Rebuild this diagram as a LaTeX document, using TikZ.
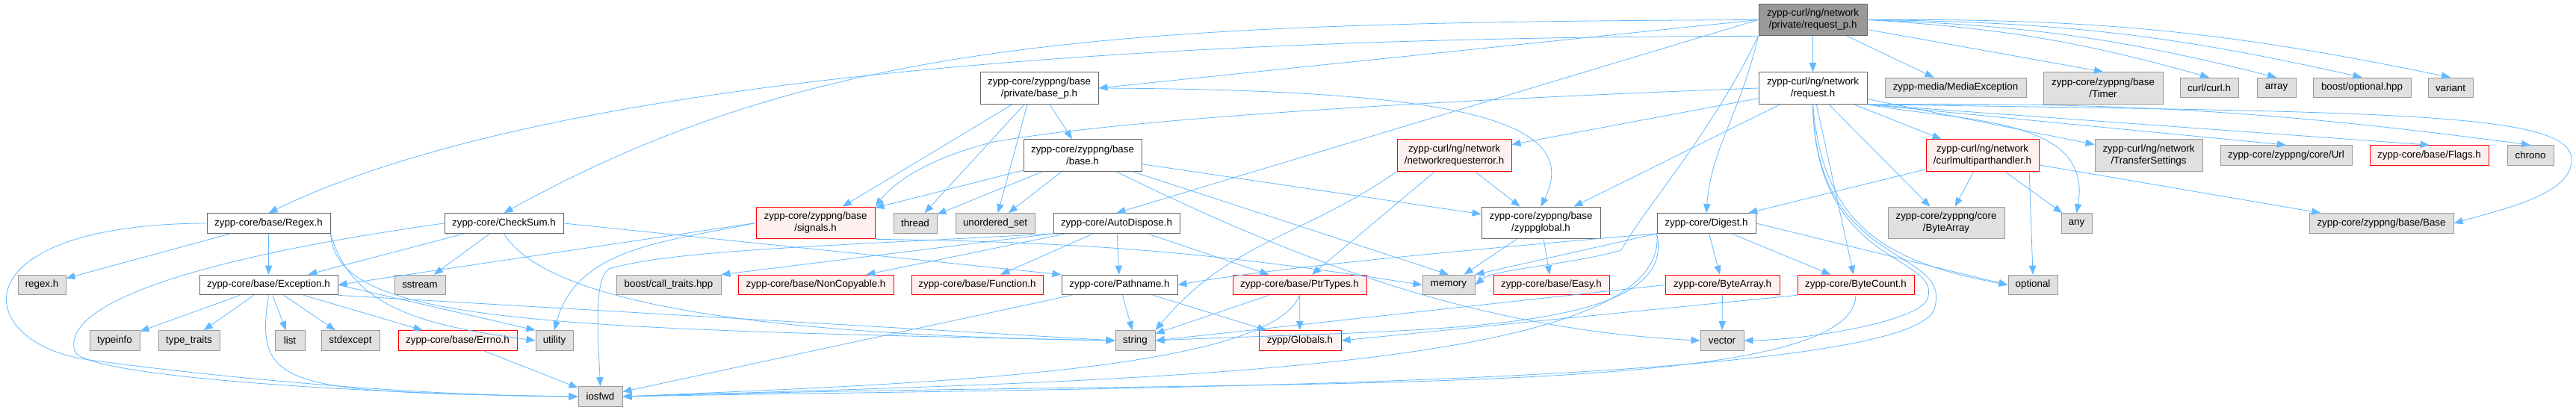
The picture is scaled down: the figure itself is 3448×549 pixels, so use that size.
\documentclass[tikz,border=0pt]{standalone}
\usepackage{fontspec}
\setmainfont{Liberation Sans}
\usetikzlibrary{arrows.meta}
\definecolor{edgeblue}{HTML}{63B8FF}
\definecolor{sysfill}{HTML}{E0E0E0}
\definecolor{sysline}{HTML}{999999}
\definecolor{docline}{HTML}{666666}
\definecolor{truncfill}{HTML}{FFF0F0}

\begin{document}
\begin{tikzpicture}[x=0.75pt,y=-0.75pt,
  hdr/.style={rectangle,inner sep=0pt,minimum height=20pt,align=center,
    font=\fontsize{10}{12}\selectfont,line width=0.75pt},
  twoline/.style={minimum height=32pt},
  syshdr/.style={hdr,fill=sysfill,draw=sysline},
  dochdr/.style={hdr,fill=white,draw=docline},
  redhdr/.style={hdr,fill=truncfill,draw=red},
  roothdr/.style={hdr,fill=sysline,draw=docline},
  dep/.style={draw=edgeblue,line width=0.6pt,-{Triangle[length=9pt,width=7pt]}}]
\useasboundingbox (0,0) rectangle (3448,549);

% the file itself
\node[roothdr,twoline,minimum width=108.75pt] (rp) at (2426.5,26.5) {zypp-curl/ng/network\\/private/request\_p.h};

% second row
\node[dochdr,twoline,minimum width=118.5pt] (basep) at (1391,118) {zypp-core/zyppng/base\\/private/base\_p.h};
\node[dochdr,twoline,minimum width=108.75pt] (req) at (2426.5,118) {zypp-curl/ng/network\\/request.h};
\node[syshdr,minimum width=141.75pt] (mediaex) at (2617.5,117.5) {zypp-media/MediaException};
\node[syshdr,twoline,minimum width=120pt] (timer) at (2815,118) {zypp-core/zyppng/base\\/Timer};
\node[syshdr,minimum width=58.5pt] (curlh) at (2957,117.5) {curl/curl.h};
\node[syshdr,minimum width=39pt] (array) at (3047,117.5) {array};
\node[syshdr,minimum width=98.25pt] (boostopt) at (3161.5,117.5) {boost/optional.hpp};
\node[syshdr,minimum width=45pt] (variant) at (3280,117.5) {variant};

% third row
\node[dochdr,twoline,minimum width=118.5pt] (baseh) at (1449,208) {zypp-core/zyppng/base\\/base.h};
\node[redhdr,twoline,minimum width=114.75pt] (nre) at (1946.5,208) {zypp-curl/ng/network\\/networkrequesterror.h};
\node[redhdr,twoline,minimum width=113.25pt] (cmph) at (2653.5,208) {zypp-curl/ng/network\\/curlmultiparthandler.h};
\node[syshdr,twoline,minimum width=108pt] (transfer) at (2876,208) {zypp-curl/ng/network\\/TransferSettings};
\node[syshdr,minimum width=132pt] (url) at (3060,208) {zypp-core/zyppng/core/Url};
\node[redhdr,minimum width=119.25pt] (flags) at (3251.5,208) {zypp-core/base/Flags.h};
\node[syshdr,minimum width=46.5pt] (chrono) at (3387,208) {chrono};

% fourth row
\node[dochdr,minimum width=123.75pt] (regex) at (359.5,299) {zypp-core/base/Regex.h};
\node[dochdr,minimum width=119.25pt] (checksum) at (674.5,299) {zypp-core/CheckSum.h};
\node[redhdr,twoline,minimum width=119.25pt] (signals) at (1091.5,298.5) {zypp-core/zyppng/base\\/signals.h};
\node[syshdr,minimum width=43.5pt] (thread) at (1225,299) {thread};
\node[syshdr,minimum width=79.5pt] (uset) at (1332,299) {unordered\_set};
\node[dochdr,minimum width=126.75pt] (autodisp) at (1494.5,299) {zypp-core/AutoDispose.h};
\node[dochdr,twoline,minimum width=119.25pt] (zglobal) at (2062.5,298.5) {zypp-core/zyppng/base\\/zyppglobal.h};
\node[dochdr,minimum width=99pt] (digest) at (2284,299) {zypp-core/Digest.h};
\node[syshdr,twoline,minimum width=117pt] (coreba) at (2605,298.5) {zypp-core/zyppng/core\\/ByteArray};
\node[syshdr,minimum width=30.75pt] (any) at (2779.5,299) {any};
\node[syshdr,minimum width=144.75pt] (zbase) at (3187.5,299) {zypp-core/zyppng/base/Base};

% fifth row
\node[syshdr,minimum width=48pt] (regexh) at (56,381.5) {regex.h};
\node[dochdr,minimum width=138.75pt] (exception) at (359.5,381.5) {zypp-core/base/Exception.h};
\node[syshdr,minimum width=51pt] (sstream) at (562,381.5) {sstream};
\node[syshdr,minimum width=105pt] (calltraits) at (895,381.5) {boost/call\_traits.hpp};
\node[redhdr,minimum width=156pt] (noncopy) at (1092,381.5) {zypp-core/base/NonCopyable.h};
\node[redhdr,minimum width=132pt] (function) at (1308,381.5) {zypp-core/base/Function.h};
\node[dochdr,minimum width=116.25pt] (pathname) at (1498.5,381.5) {zypp-core/Pathname.h};
\node[redhdr,minimum width=134.25pt] (ptrtypes) at (1739.5,381.5) {zypp-core/base/PtrTypes.h};
\node[syshdr,minimum width=52.5pt] (memory) at (1939,381.5) {memory};
\node[redhdr,minimum width=116.25pt] (easy) at (2076.5,381.5) {zypp-core/base/Easy.h};
\node[redhdr,minimum width=114.75pt] (bytearray) at (2305.5,381.5) {zypp-core/ByteArray.h};
\node[redhdr,minimum width=117pt] (bytecount) at (2484,381.5) {zypp-core/ByteCount.h};
\node[syshdr,minimum width=49.5pt] (optional) at (2721,381.5) {optional};

% sixth row
\node[syshdr,minimum width=50.25pt] (typeinfo) at (153.5,456) {typeinfo};
\node[syshdr,minimum width=61.5pt] (typetraits) at (253,456) {type\_traits};
\node[syshdr,minimum width=30pt] (list) at (388,456) {list};
\node[syshdr,minimum width=58.5pt] (stdexcept) at (469,456) {stdexcept};
\node[redhdr,minimum width=119.25pt] (errno) at (612.5,456) {zypp-core/base/Errno.h};
\node[syshdr,minimum width=37.5pt] (utility) at (742,456) {utility};
\node[syshdr,minimum width=39.75pt] (string) at (1519.5,456) {string};
\node[redhdr,minimum width=82.5pt] (globals) at (1740,456) {zypp/Globals.h};
\node[syshdr,minimum width=43.5pt] (vector) at (2305,456) {vector};

% last row
\node[syshdr,minimum width=44.25pt] (iosfwd) at (803.5,531) {iosfwd};

% request_p.h
\draw[dep] (rp) -- (req);
\draw[dep] (rp.west) -- (basep.east);
\draw[dep] (rp.south west) .. controls (1400,50) and (700,120) .. (regex.north);
\draw[dep] (rp.west) .. controls (1500,30) and (1100,50) .. (checksum.north);
\draw[dep] (rp.west) -- (autodisp.north);
\draw[dep] (rp.south west) .. controls (2330,150) and (2290,200) .. (digest.north);
\draw[dep] (rp.south west) .. controls (2290,180) and (2200,280) .. (2170,335)
                           .. controls (2100,355) and (2000,360) .. (memory.east);
\draw[dep] (rp) -- (mediaex);
\draw[dep] (rp) -- (timer.north);
\draw[dep] (rp.east) to[bend left=6] (curlh.north);
\draw[dep] (rp.east) to[bend left=6] (array.north);
\draw[dep] (rp.east) to[bend left=6] (boostopt.north);
\draw[dep] (rp.east) to[bend left=6] (variant.north);

% base_p.h
\draw[dep] (basep) -- (signals);
\draw[dep] (basep) -- (thread);
\draw[dep] ([xshift=-12pt]basep.south) -- (uset);
\draw[dep] (basep) -- (baseh);
\draw[dep] (basep.east) .. controls (1950,120) and (2120,160) .. (zglobal.north);

% base.h
\draw[dep] (baseh) -- (signals);
\draw[dep] (baseh) -- (thread);
\draw[dep] (baseh) -- (uset);
\draw[dep] (baseh) -- (zglobal);
\draw[dep] (baseh) -- (memory.north);
\draw[dep] (baseh) .. controls (1700,330) and (1950,440) .. (vector.west);

% request.h
\draw[dep] (req.west) .. controls (1900,135) and (1500,160) .. (1330,190)
                      .. controls (1250,210) and (1200,240) .. (signals.north east);
\draw[dep] (req) -- (nre);
\draw[dep] (req) -- (zglobal);
\draw[dep] (req) -- (cmph);
\draw[dep] (req) -- (transfer);
\draw[dep] (req.south east) -- (url.north);
\draw[dep] (req.south east) -- (flags.north);
\draw[dep] (req.south east) to[bend left=4] (chrono.north);
\draw[dep] (req.south east) .. controls (3200,150) and (3440,150) .. (3442,213)
                            .. controls (3444,260) and (3350,280) .. (zbase.east);
\draw[dep] (req) -- (coreba);
\draw[dep] (req.south east) .. controls (2624,163) and (2802,155) .. (any.north);
\draw[dep] (req.south) .. controls (2440,300) and (2520,350) .. (optional.west);
\draw[dep] (req) -- (bytecount);
\draw[dep] (req.south) .. controls (2430,360) and (2600,340) .. (2580,400)
                       .. controls (2570,430) and (2420,455) .. (vector.east);
\draw[dep] (req.south) .. controls (2430,360) and (2610,330) .. (2590,410)
                       .. controls (2580,520) and (1400,520) .. (iosfwd.east);

% networkrequesterror.h
\draw[dep] (nre) -- (zglobal);
\draw[dep] (nre) -- (ptrtypes);
\draw[dep] (nre.south west) .. controls (1742,318) and (1646,323) .. (string.north east);

% curlmultiparthandler.h
\draw[dep] (cmph) -- (digest);
\draw[dep] (cmph) -- (coreba);
\draw[dep] ([xshift=-10pt]cmph.south east) -- (optional.north);
\draw[dep] (cmph) -- (any);
\draw[dep] (cmph) -- (zbase);

% Regex.h
\draw[dep] (regex) -- (regexh);
\draw[dep] (regex) -- (exception);
\draw[dep] (regex.west) .. controls (-60,300) and (-40,460) .. (120,482)
                        .. controls (280,504) and (550,530) .. (iosfwd.west);
\draw[dep] (regex.south east) .. controls (470,410) and (560,435) .. (utility.west);
\draw[dep] (regex.south east) .. controls (450,430) and (700,440) .. (string.west);

% CheckSum.h
\draw[dep] (checksum) -- (exception);
\draw[dep] (checksum) -- (sstream);
\draw[dep] (checksum.west) .. controls (300,340) and (80,400) .. (100,470)
                           .. controls (110,505) and (500,528) .. (iosfwd.west);
\draw[dep] (checksum.south) .. controls (740,420) and (1100,450) .. (string.west);
\draw[dep] (checksum.east) -- (pathname.north west);

% signals.h
\draw[dep] (signals.west) -- (exception.east);
\draw[dep] (signals.west) .. controls (897,323) and (772,330) .. (utility.north);
\draw[dep] (signals.south east) to[bend left=4] (memory.west);

% AutoDispose.h
\draw[dep] (autodisp.south west) .. controls (1100,330) and (900,335) .. (815,360)
                                 .. controls (795,375) and (800,440) .. (iosfwd.north);
\draw[dep] (autodisp.south west) -- (calltraits.north east);
\draw[dep] (autodisp) -- (noncopy);
\draw[dep] (autodisp) -- (function);
\draw[dep] (autodisp) -- (pathname);
\draw[dep] (autodisp) -- (ptrtypes);

% zyppglobal.h
\draw[dep] (zglobal) -- (memory);
\draw[dep] (zglobal) -- (easy);

% Digest.h
\draw[dep] (digest.south west) .. controls (1900,340) and (1700,360) .. (pathname.east);
\draw[dep] (digest.south west) -- (memory.north east);
\draw[dep] (digest.south west) .. controls (2250,450) and (1900,440) .. (string.east);
\draw[dep] (digest) -- (bytearray);
\draw[dep] (digest) -- (bytecount);
\draw[dep] (digest.east) -- (optional.west);
\draw[dep] (digest.south west) .. controls (2240,500) and (1500,510) .. (iosfwd.east);

% Exception.h
\draw[dep] (exception) -- (typeinfo);
\draw[dep] (exception) -- (typetraits);
\draw[dep] (exception) -- (list);
\draw[dep] (exception) -- (stdexcept);
\draw[dep] (exception) -- (errno);
\draw[dep] (exception.south) .. controls (340,520) and (380,525) .. (iosfwd.west);
\draw[dep] (exception.east) -- (utility.north west);
\draw[dep] (exception.south east) -- (string.west);

% Pathname.h
\draw[dep] (pathname) -- (iosfwd);
\draw[dep] (pathname) -- (string);
\draw[dep] (pathname) -- (globals);

% PtrTypes.h
\draw[dep] (ptrtypes) -- (string);
\draw[dep] (ptrtypes) -- (globals);
\draw[dep] (ptrtypes.south) .. controls (1700,500) and (1200,515) .. (iosfwd.east);

% ByteArray.h and ByteCount.h
\draw[dep] (bytearray) -- (vector);
\draw[dep] (bytearray.west) -- (string.east);
\draw[dep] (bytecount.south west) -- (globals.east);
\draw[dep] (bytecount.south) .. controls (2480,540) and (1700,505) .. (iosfwd.east);

% Errno.h
\draw[dep] (errno) -- (iosfwd);
\end{tikzpicture}
\end{document}
